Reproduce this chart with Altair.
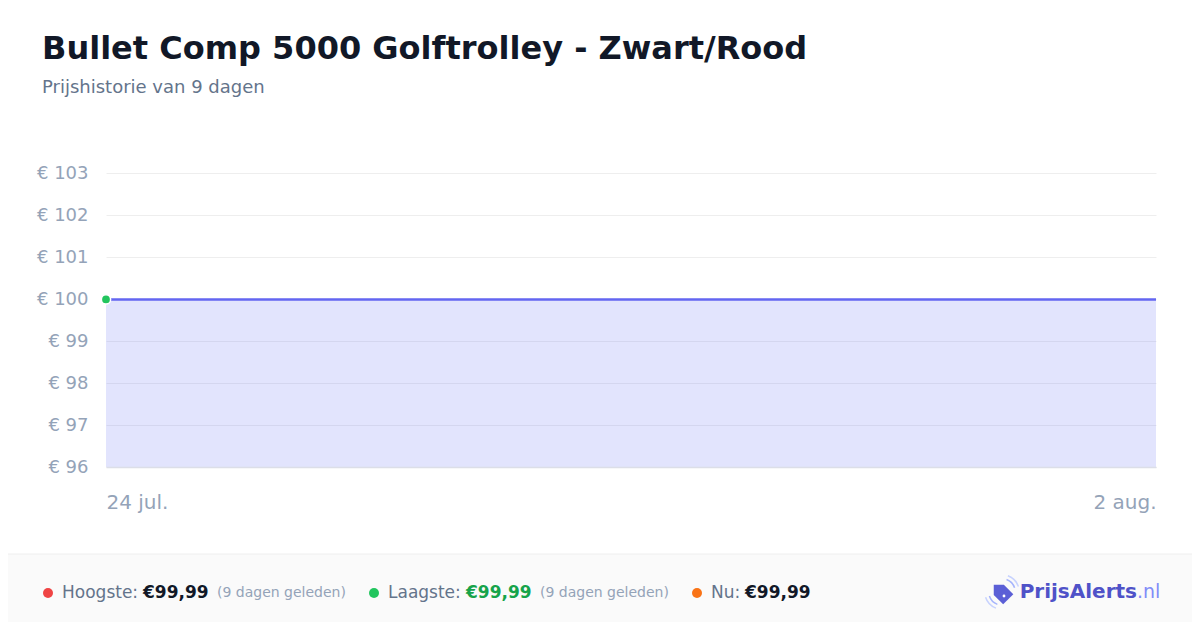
import altair as alt
import pandas as pd

# price history (one price per day)
dates = ["2025-07-24", "2025-07-25", "2025-07-26", "2025-07-27", "2025-07-28",
         "2025-07-29", "2025-07-30", "2025-07-31", "2025-08-01", "2025-08-02"]
prices = [99.99, 99.99, 99.99, 99.99, 99.99, 99.99, 99.99, 99.99, 99.99, 99.99]

y_ticks = [96, 97, 98, 99, 100, 101, 102, 103]
months_nl = ["jan.", "feb.", "mrt.", "apr.", "mei", "jun.",
             "jul.", "aug.", "sep.", "okt.", "nov.", "dec."]

title = "Bullet Comp 5000 Golftrolley - Zwart/Rood"
subtitle = "Prijshistorie van 9 dagen"

footer_labels = ["Hoogste:", "Laagste:", "Nu:"]
footer_values = ["€99,99", "€99,99", "€99,99"]
footer_notes = ["(9 dagen geleden)", "(9 dagen geleden)", ""]

df = pd.DataFrame({"date": dates, "price": prices})
one = alt.Data(values=[{}])

W, H = 1050, 294

month_arr = "[" + ",".join("'%s'" % m for m in months_nl) + "]"

x = alt.X(
    "date:T",
    scale=alt.Scale(type="utc", nice=False),
    axis=alt.Axis(
        title=None,
        values=[alt.DateTime(year=2025, month=7, date=24, utc=True),
                alt.DateTime(year=2025, month=8, date=2, utc=True)],
        labelExpr="utcdate(datum.value) + ' ' + " + month_arr + "[utcmonth(datum.value)]",
        labelFlush=True,
        labelFontSize=20,
        labelColor="#94a3b8",
        labelPadding=25,
        grid=False,
        ticks=False,
        domain=True,
        domainColor="#dcdee8",
        domainWidth=1.5,
        zindex=1,
    ),
)
y = alt.Y(
    "price:Q",
    scale=alt.Scale(domain=[96, 103], nice=False, zero=False),
    axis=alt.Axis(
        title=None,
        values=y_ticks,
        labelExpr="'€ ' + datum.value",
        labelFontSize=18,
        labelColor="#94a3b8",
        labelPadding=18,
        ticks=False,
        domain=False,
        gridColor="#eeeeee",
        gridWidth=1,
    ),
)

base = alt.Chart(df)
area = base.mark_area(color="#6370f3", fillOpacity=0.19).encode(
    x=x, y=y, y2=alt.datum(96)
)
line = base.mark_line(color="#6366f1", strokeWidth=2.5).encode(x=x, y=y)
low_pt = alt.Chart(df.head(1)).mark_point(
    filled=True, color="#22c55e", size=85, stroke="white", strokeWidth=1.5, opacity=1
).encode(x=x, y=y)


def txt(s, px, py, size, color, weight="normal", align="left", baseline="middle"):
    return alt.Chart(one).mark_text(
        text=s, fontSize=size, color=color, fontWeight=weight,
        align=align, baseline=baseline,
    ).encode(x=alt.value(px), y=alt.value(py))


# page header
head = [
    txt(title, -64, -114, 32, "#111827", "bold", baseline="alphabetic"),
    txt(subtitle, -64, -80, 18, "#64748b", baseline="alphabetic"),
]

# footer band
band = alt.Chart(one).mark_rect(color="#fafafa").encode(
    x=alt.value(-98), x2=alt.value(1094), y=alt.value(381), y2=alt.value(460)
)
border = alt.Chart(one).mark_rule(color="#eeeeee", strokeWidth=1).encode(
    x=alt.value(-98), x2=alt.value(1094), y=alt.value(381)
)

fy = 420
dot_x = [-58, 268, 591]
label_x = [-44, 282, 605]
value_x = [37, 360, 639]
note_x = [111, 434, None]
dot_colors = ["#ef4444", "#22c55e", "#f97316"]
value_colors = ["#111827", "#16a34a", "#111827"]

foot = [band, border]
for i in range(3):
    foot.append(alt.Chart(one).mark_circle(size=100, color=dot_colors[i], opacity=1)
                .encode(x=alt.value(dot_x[i]), y=alt.value(fy)))
    foot.append(txt(footer_labels[i], label_x[i], fy, 17, "#64748b"))
    foot.append(txt(footer_values[i], value_x[i], fy, 17, value_colors[i], "bold"))
    if footer_notes[i]:
        foot.append(txt(footer_notes[i], note_x[i], fy, 14, "#94a3b8"))

# logo
tag_path = "M0,-1 L0.7,-0.3 L0.7,1 L-0.7,1 L-0.7,-0.3 Z"
icon_x, icon_y = 896, 419
logo = [
    alt.Chart(one).mark_arc(color="#a5b4fc", radius=14, radius2=12.5, theta=0.35, theta2=1.25)
    .encode(x=alt.value(icon_x), y=alt.value(icon_y)),
    alt.Chart(one).mark_arc(color="#c7d2fe", radius=18, radius2=16.5, theta=0.35, theta2=1.25)
    .encode(x=alt.value(icon_x), y=alt.value(icon_y)),
    alt.Chart(one).mark_arc(color="#a5b4fc", radius=14, radius2=12.5, theta=3.5, theta2=4.4)
    .encode(x=alt.value(icon_x), y=alt.value(icon_y)),
    alt.Chart(one).mark_arc(color="#c7d2fe", radius=18, radius2=16.5, theta=3.5, theta2=4.4)
    .encode(x=alt.value(icon_x), y=alt.value(icon_y)),
    alt.Chart(one).mark_point(shape=tag_path, filled=True, color="#5b5fd6", size=420,
                              angle=315, opacity=1)
    .encode(x=alt.value(icon_x - 1), y=alt.value(icon_y)),
    alt.Chart(one).mark_circle(color="white", size=8, opacity=1)
    .encode(x=alt.value(icon_x + 2), y=alt.value(icon_y + 4)),
    txt("PrijsAlerts", 1031, icon_y, 20, "#4f52c8", "bold", align="right"),
    txt(".nl", 1031, icon_y, 19, "#818cf8"),
]

chart = alt.layer(
    area, line, low_pt, *head, *foot, *logo
).properties(
    width=W,
    height=H,
    autosize=alt.AutoSizeParams(type="none"),
    padding={"left": 98, "top": 165, "right": 36, "bottom": 155},
).configure(
    font="DejaVu Sans",
).configure_view(
    stroke=None,
)

chart.save("out.html", embed_options={"renderer": "svg", "actions": False})
